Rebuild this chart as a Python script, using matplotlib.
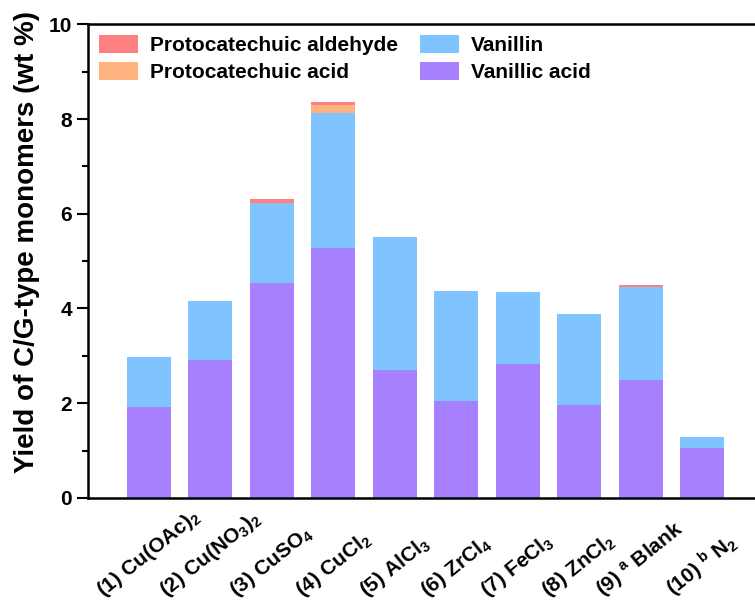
import matplotlib.pyplot as plt

plt.rcParams['font.family'] = ['Liberation Sans', 'DejaVu Sans']
plt.rcParams['font.weight'] = 'bold'
plt.rcParams['mathtext.default'] = 'regular'

catalysts = ["(1) Cu(OAc)$_2$", "(2) Cu(NO$_3$)$_2$", "(3) CuSO$_4$", "(4) CuCl$_2$",
             "(5) AlCl$_3$", "(6) ZrCl$_4$", "(7) FeCl$_3$", "(8) ZnCl$_2$",
             "(9) $^a$ Blank", "(10) $^b$ N$_2$"]
vanillic_acid = [1.92, 2.92, 4.53, 5.27, 2.71, 2.04, 2.83, 1.96, 2.50, 1.05]
vanillin = [1.06, 1.23, 1.69, 2.86, 2.79, 2.33, 1.51, 1.92, 1.95, 0.24]
proto_acid = [0, 0, 0, 0.16, 0, 0, 0, 0, 0, 0]
proto_aldehyde = [0, 0, 0.09, 0.07, 0, 0, 0, 0, 0.04, 0]

c_ald = '#FF8080'
c_acid = '#FFB380'
c_van = '#80C4FF'
c_va = '#A680FF'

fig = plt.figure(figsize=(7.55, 6.08), dpi=100)
ax = fig.add_axes([0.1166, 0.181, 0.8834, 0.779])

x = list(range(len(catalysts)))
w = 0.72
b1 = ax.bar(x, vanillic_acid, w, color=c_va, label='Vanillic acid')
bottom = vanillic_acid
b2 = ax.bar(x, vanillin, w, bottom=bottom, color=c_van, label='Vanillin')
bottom = [a + b for a, b in zip(bottom, vanillin)]
b3 = ax.bar(x, proto_acid, w, bottom=bottom, color=c_acid, label='Protocatechuic acid')
bottom = [a + b for a, b in zip(bottom, proto_acid)]
b4 = ax.bar(x, proto_aldehyde, w, bottom=bottom, color=c_ald, label='Protocatechuic aldehyde')

ax.set_xlim(-0.99, 9.86)
ax.set_ylim(0, 10)
ax.set_yticks([0, 2, 4, 6, 8, 10])
ax.set_yticks([1, 3, 5, 7, 9], minor=True)
ax.set_ylabel('Yield of C/G-type monomers (wt %)', fontsize=20, fontweight='bold', labelpad=6)
ax.yaxis.label.set_y(0.54)  # sits a bit above the axis centre in the original

# labels sit on a common baseline far below the axis, centred under each bar
ax.set_xticks(x)
ax.set_xticklabels(catalysts, rotation=39, ha='center', va='bottom', fontsize=15, fontweight='bold')
ax.tick_params(axis='x', length=0, pad=75)
ax.tick_params(axis='y', which='major', length=8, width=1.5, labelsize=15, direction='out')
ax.tick_params(axis='y', which='minor', length=4.5, width=1.5, direction='out')
for lab in ax.get_yticklabels():
    lab.set_fontweight('bold')

ax.spines['right'].set_visible(False)
for s in ['left', 'bottom', 'top']:
    ax.spines[s].set_linewidth(1.8)

ax.legend([b4, b3, b2, b1],
          ['Protocatechuic aldehyde', 'Protocatechuic acid', 'Vanillin', 'Vanillic acid'],
          ncol=2, loc='upper left', bbox_to_anchor=(0.016, 0.977), frameon=False,
          prop={'size': 15, 'weight': 'bold'}, handlelength=1.9, handleheight=0.95,
          handletextpad=0.55, columnspacing=1.05, labelspacing=0.3, borderaxespad=0, borderpad=0)

fig.savefig('out.png', dpi=100)
